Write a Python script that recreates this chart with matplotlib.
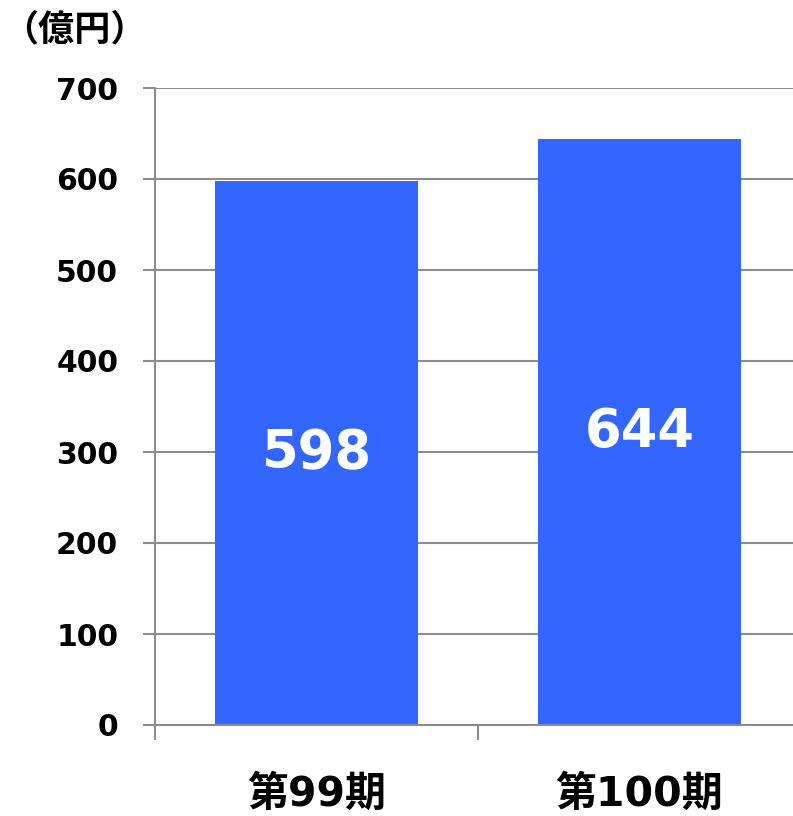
import matplotlib.pyplot as plt
import numpy as np

plt.rcParams['font.family'] = ['DejaVu Sans', 'Noto Sans CJK JP']

periods = ['第99期', '第100期']
sales = [598, 644]
yticks = [0, 100, 200, 300, 400, 500, 600, 700]

bar_color = '#3366ff'
line_color = '#8c8c8c'

fig = plt.figure(figsize=(7.93, 8.16), dpi=100)
ax = fig.add_axes([155/793, 91/816, 646/793, 637/816])

x = np.arange(len(periods))
bars = ax.bar(x, sales, width=0.63, color=bar_color, zorder=2)

for b, v in zip(bars, sales):
    ax.text(b.get_x() + b.get_width()/2, v/2, str(v), ha='center', va='center',
            color='white', fontsize=38, fontweight='bold', zorder=3)

ax.set_xlim(-0.5, 1.5)
ax.set_ylim(0, 700)
ax.set_yticks(yticks)
ax.set_yticklabels([str(t) for t in yticks], fontsize=21.5, fontweight='bold')
ax.set_xticks(x)
ax.set_xticklabels(periods, fontsize=29.5, fontweight='bold')
ax.set_xticks([-0.5, 0.5], minor=True)

ax.tick_params(axis='x', which='major', length=0, pad=36)
ax.tick_params(axis='x', which='minor', length=11, width=1.5, color=line_color, direction='out')
ax.tick_params(axis='y', length=8.5, width=1.5, color=line_color, pad=18)

ax.yaxis.grid(True, color=line_color, linewidth=1.5, zorder=1)
ax.set_axisbelow(True)

for s in ['top', 'right']:
    ax.spines[s].set_visible(False)
for s in ['left', 'bottom']:
    ax.spines[s].set_color(line_color)
    ax.spines[s].set_linewidth(1.5)

fig.text(2/793, 1 - 30/816, '（億円）', fontsize=26, fontweight='bold',
         ha='left', va='center')

fig.savefig('out.png', dpi=100)
